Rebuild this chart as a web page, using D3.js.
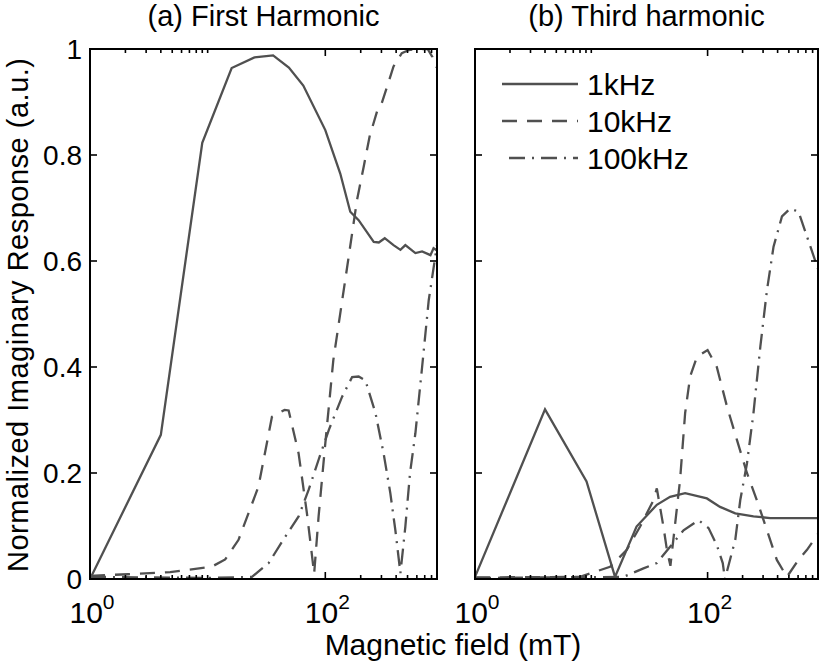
<!DOCTYPE html>
<html>
<head>
<meta charset="utf-8">
<script src="https://cdn.jsdelivr.net/npm/d3@7"></script>
<style>
  body { margin: 0; background: #fff; }
  text { font-family: "Liberation Sans", Arial, sans-serif; fill: #000; }
</style>
</head>
<body>
<svg id="chart" width="822" height="665"></svg>
<script>
// ---- data (field in mT, normalized response) ----
const panelTitles = ['(a) First Harmonic', '(b) Third harmonic'];
const seriesNames = ['1kHz', '10kHz', '100kHz'];
const yTicks = [0, 0.2, 0.4, 0.6, 0.8, 1];
const yTickLabels = ['0', '0.2', '0.4', '0.6', '0.8', '1'];
const xTicks = [1, 100];
const xTickExp = ['0', '2'];

// first harmonic
const first1kField = [1, 4, 9, 16, 25, 36, 49, 65, 100, 134, 163, 192, 258, 285, 320, 380, 435, 479, 583, 665, 783, 832, 890];
const first1kResp = [0, 0.272, 0.823, 0.964, 0.984, 0.988, 0.965, 0.931, 0.847, 0.765, 0.693, 0.677, 0.636, 0.635, 0.643, 0.63, 0.621, 0.63, 0.615, 0.618, 0.611, 0.624, 0.62];
const first10kField = [1, 2.1, 4.8, 10.8, 14.1, 18.3, 27, 35.2, 45.1, 48.8, 59.3, 69.8, 80.4, 87.7, 100, 117, 158, 186, 212, 238, 275, 302, 335, 380, 447, 513, 631, 741, 813, 850, 890];
const first10kResp = [0.006, 0.009, 0.013, 0.023, 0.037, 0.074, 0.174, 0.306, 0.319, 0.318, 0.237, 0.124, 0.01, 0.118, 0.256, 0.413, 0.608, 0.715, 0.778, 0.835, 0.882, 0.898, 0.929, 0.967, 0.992, 0.998, 1.0, 1.0, 0.985, 0.97, 0.965];
const first100kField = [1, 3.2, 10, 23.8, 33, 45.7, 59.3, 72.1, 87.7, 107, 139, 169, 192, 219, 267, 313, 357, 394, 435, 479, 525, 583, 665, 757, 890];
const first100kResp = [0.004, 0.003, 0.002, 0.004, 0.03, 0.08, 0.118, 0.168, 0.225, 0.281, 0.344, 0.381, 0.382, 0.375, 0.313, 0.237, 0.162, 0.092, 0.011, 0.099, 0.2, 0.275, 0.4, 0.526, 0.63];

// third harmonic
const third1kField = [1, 4, 9.1, 16, 24.5, 36.6, 47.6, 64.1, 98.6, 128, 173, 248, 346, 890];
const third1kResp = [0.004, 0.32, 0.184, 0.004, 0.099, 0.14, 0.155, 0.162, 0.152, 0.136, 0.124, 0.118, 0.115, 0.115];
const third10kField = [1, 8, 14.5, 20.2, 26.3, 34.3, 36.6, 41.7, 44.7, 47.9, 58, 64.1, 70.8, 80.9, 100, 120, 147, 179, 218, 265, 324, 394, 481, 603, 716, 890];
const third10kResp = [0.003, 0.004, 0.023, 0.055, 0.099, 0.149, 0.171, 0.099, 0.055, 0.025, 0.187, 0.313, 0.382, 0.419, 0.432, 0.4, 0.325, 0.262, 0.2, 0.149, 0.092, 0.036, 0.004, 0.036, 0.055, 0.085];
const third100kField = [1, 18.9, 28.1, 36.6, 47.6, 62.1, 83.6, 102, 120, 135, 141, 173, 191, 218, 248, 284, 324, 369, 436, 514, 605, 716, 890];
const third100kResp = [0.002, 0.004, 0.02, 0.03, 0.061, 0.092, 0.111, 0.096, 0.064, 0.03, 0.0, 0.074, 0.149, 0.218, 0.313, 0.438, 0.545, 0.627, 0.684, 0.699, 0.693, 0.646, 0.585];

const panels = [
  { title: panelTitles[0], left: 90, right: 437, showY: true,
    series: [[first1kField, first1kResp], [first10kField, first10kResp], [first100kField, first100kResp]] },
  { title: panelTitles[1], left: 475, right: 818, showY: false,
    series: [[third1kField, third1kResp], [third10kField, third10kResp], [third100kField, third100kResp]] }
];

const plotTop = 49;
const plotBottom = 579;
const lineColor = '#505050';
const dashes = [null, '15,10', '16,7,2,7'];
const minorTicks = [2, 3, 4, 5, 6, 7, 8, 9, 10, 200, 300, 400, 500, 600, 700, 800];

const svg = d3.select('#chart');
const y = d3.scaleLinear().domain([0, 1]).range([plotBottom, plotTop]);

panels.forEach((p, i) => {
  const x = d3.scaleLog().domain([1, 890]).range([p.left, p.right]);
  const g = svg.append('g');

  g.append('clipPath').attr('id', `clip${i}`)
    .append('rect')
      .attr('x', p.left).attr('y', plotTop - 1)
      .attr('width', p.right - p.left).attr('height', plotBottom - plotTop + 2);

  // curves
  const line = d3.line().x(d => x(d[0])).y(d => y(d[1]));
  p.series.forEach(([f, r], k) => {
    g.append('path')
      .attr('clip-path', `url(#clip${i})`)
      .attr('d', line(d3.zip(f, r)))
      .attr('fill', 'none')
      .attr('stroke', lineColor)
      .attr('stroke-width', 2.3)
      .attr('stroke-dasharray', dashes[k]);
  });

  // ticks pointing inward, on every side
  const tickG = g.append('g').attr('stroke', '#000').attr('stroke-width', 1.6);
  yTicks.forEach(t => {
    tickG.append('line').attr('x1', p.left).attr('x2', p.left + 7).attr('y1', y(t)).attr('y2', y(t));
    tickG.append('line').attr('x1', p.right).attr('x2', p.right - 7).attr('y1', y(t)).attr('y2', y(t));
  });
  xTicks.forEach(t => {
    tickG.append('line').attr('x1', x(t)).attr('x2', x(t)).attr('y1', plotBottom).attr('y2', plotBottom - 7);
    tickG.append('line').attr('x1', x(t)).attr('x2', x(t)).attr('y1', plotTop).attr('y2', plotTop + 7);
  });
  minorTicks.filter(t => x(t) < p.right - 1).forEach(t => {
    tickG.append('line').attr('x1', x(t)).attr('x2', x(t)).attr('y1', plotBottom).attr('y2', plotBottom - 4);
    tickG.append('line').attr('x1', x(t)).attr('x2', x(t)).attr('y1', plotTop).attr('y2', plotTop + 4);
  });

  // box
  g.append('rect')
    .attr('x', p.left).attr('y', plotTop)
    .attr('width', p.right - p.left).attr('height', plotBottom - plotTop)
    .attr('fill', 'none').attr('stroke', '#000').attr('stroke-width', 2);

  // x tick labels 10^n
  xTicks.forEach((t, j) => {
    const lab = g.append('text')
      .attr('x', x(t) + 2).attr('y', 623)
      .attr('text-anchor', 'middle')
      .style('font-size', '30px');
    lab.append('tspan').text('10');
    lab.append('tspan').attr('dy', -14).style('font-size', '21px').text(xTickExp[j]);
  });

  if (p.showY) {
    yTicks.forEach((t, j) => {
      g.append('text')
        .attr('x', 82).attr('y', y(t))
        .attr('dy', '0.36em')
        .attr('text-anchor', 'end')
        .style('font-size', '28px')
        .text(yTickLabels[j]);
    });
  }

  g.append('text')
    .attr('x', (p.left + p.right) / 2).attr('y', 26)
    .attr('text-anchor', 'middle')
    .style('font-size', '29px')
    .text(p.title);
});

// legend inside the right panel
const legend = svg.append('g');
seriesNames.forEach((name, k) => {
  const ly = 84 + k * 37;
  legend.append('line')
    .attr('x1', 502).attr('x2', 578).attr('y1', ly).attr('y2', ly)
    .attr('stroke', lineColor).attr('stroke-width', 2.3)
    .attr('stroke-dasharray', dashes[k])
    .attr('stroke-dashoffset', k === 2 ? 25 : 0);
  legend.append('text')
    .attr('x', 587).attr('y', ly + 11)
    .style('font-size', '30px')
    .text(name);
});

// axis labels
svg.append('text')
  .attr('x', 453).attr('y', 655)
  .attr('text-anchor', 'middle')
  .style('font-size', '30px')
  .text('Magnetic field (mT)');

svg.append('text')
  .attr('transform', 'translate(28,315) rotate(-90)')
  .attr('text-anchor', 'middle')
  .attr('textLength', 514)
  .attr('lengthAdjust', 'spacing')
  .style('font-size', '29px')
  .text('Normalized Imaginary Response (a.u.)');
</script>
</body>
</html>
